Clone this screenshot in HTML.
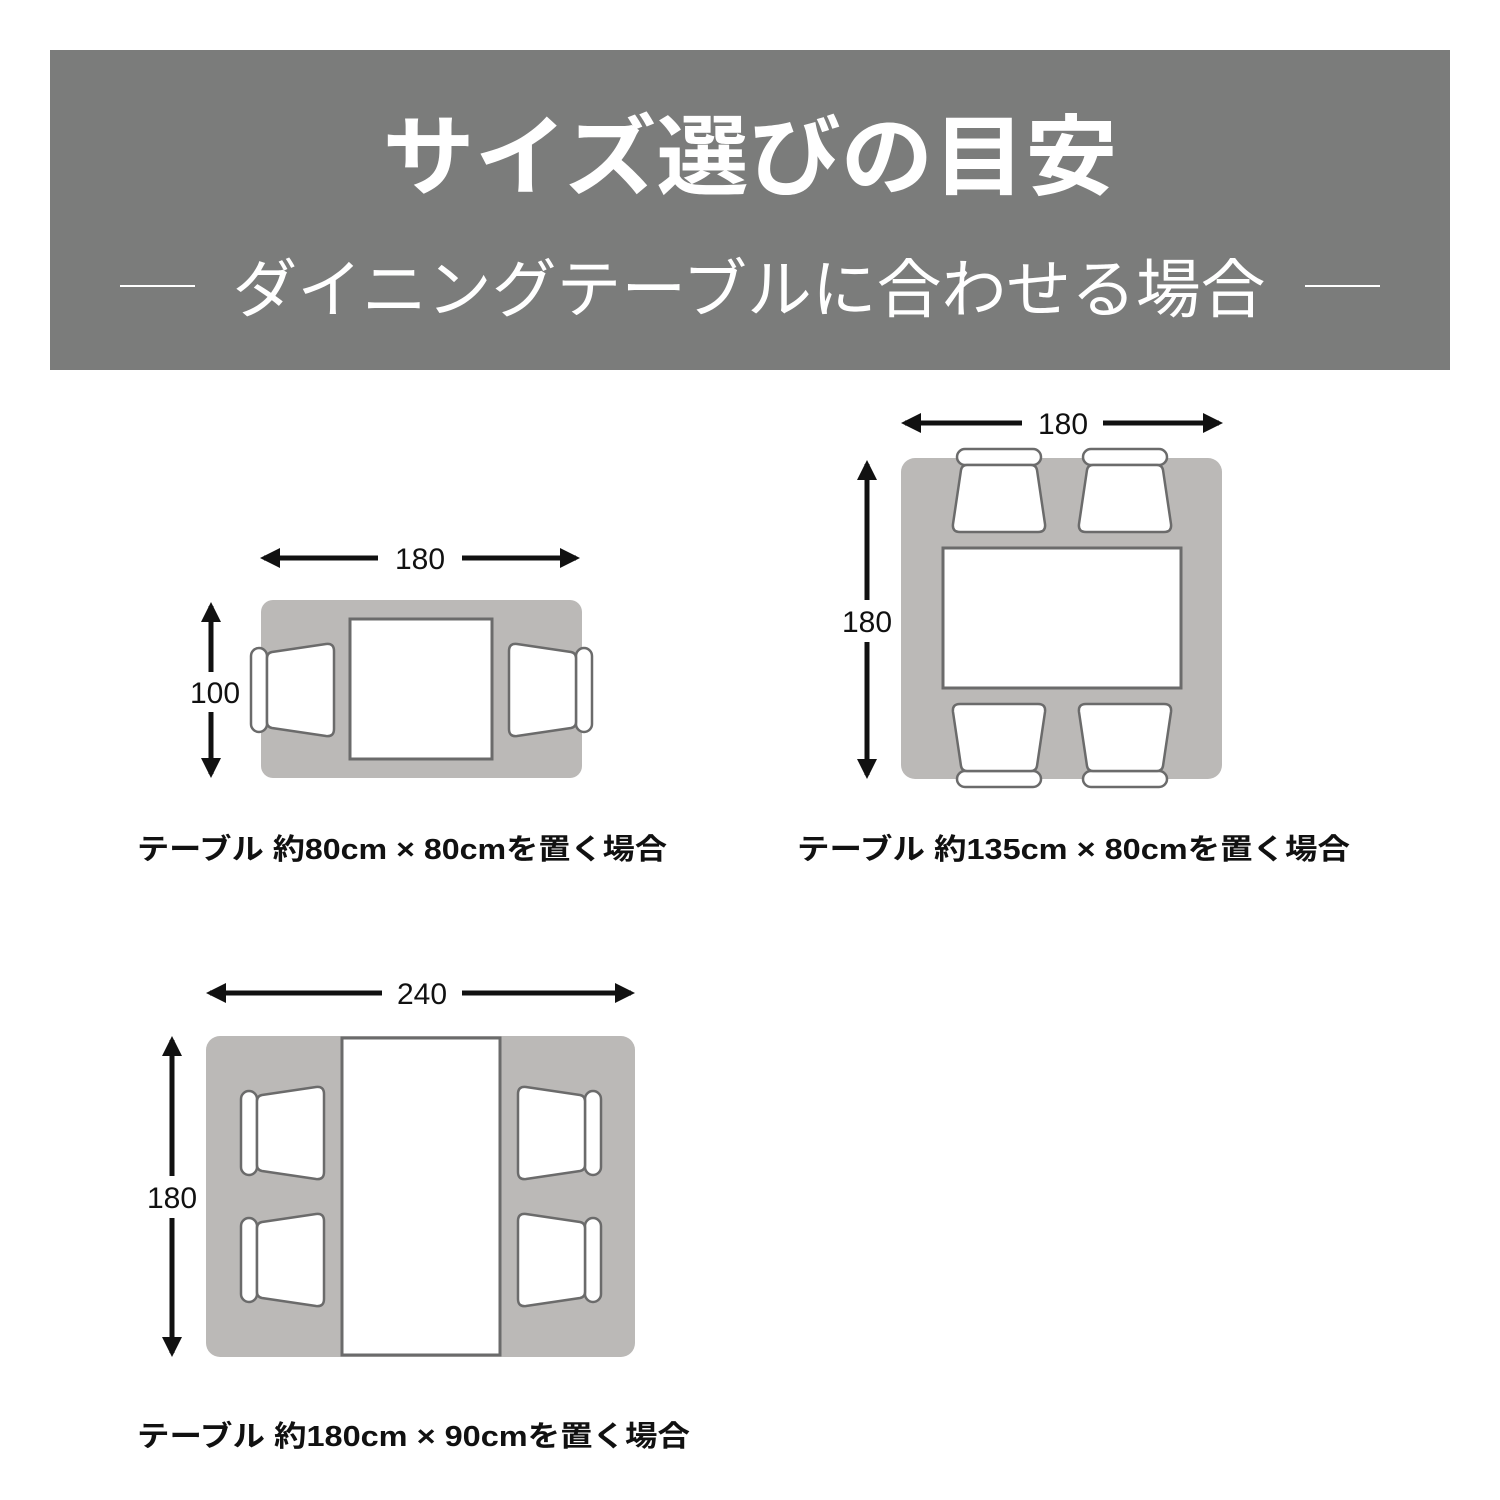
<!DOCTYPE html>
<html><head><meta charset="utf-8"><style>body{margin:0;background:#fff}svg{display:block}</style></head>
<body>
<svg width="1500" height="1500" viewBox="0 0 1500 1500" xmlns="http://www.w3.org/2000/svg" font-family="'Liberation Sans','Noto Sans CJK JP',sans-serif">
<defs>
<g id="ch">
<rect x="-45" y="-42" width="16" height="84" rx="8" fill="#fff" stroke="#6b6b6b" stroke-width="2.5"/>
<path d="M -29,-32 Q -29,-37 -24,-38 L 30,-46 Q 38,-47 38,-39 L 38,39 Q 38,47 30,46 L -24,38 Q -29,37 -29,32 Z" fill="#fff" stroke="#6b6b6b" stroke-width="2.5"/>
</g>
<marker id="ah" viewBox="0 0 10 10" refX="8" refY="5" markerWidth="4" markerHeight="4" orient="auto-start-reverse"><path d="M0,0 L10,5 L0,10 z" fill="#111"/></marker>
</defs>
<rect x="50" y="50" width="1400" height="320" fill="#7b7c7b"/>
<text x="750" y="188" text-anchor="middle" font-size="88" font-weight="bold" fill="#fff" textLength="735" lengthAdjust="spacingAndGlyphs">サイズ選びの目安</text>
<text x="749" y="312" text-anchor="middle" font-size="64" fill="#fff" textLength="1033" lengthAdjust="spacingAndGlyphs">ダイニングテーブルに合わせる場合</text>
<line x1="120" y1="286" x2="195" y2="286" stroke="#fff" stroke-width="2"/>
<line x1="1305" y1="286" x2="1380" y2="286" stroke="#fff" stroke-width="2"/>

<g stroke="#111" stroke-width="5" fill="none">
<line x1="264" y1="558" x2="378" y2="558" marker-start="url(#ah)"/><line x1="462" y1="558" x2="576" y2="558" marker-end="url(#ah)"/>
<line x1="211" y1="606" x2="211" y2="672" marker-start="url(#ah)"/><line x1="211" y1="712" x2="211" y2="774" marker-end="url(#ah)"/>
<line x1="905" y1="423" x2="1022" y2="423" marker-start="url(#ah)"/><line x1="1103" y1="423" x2="1219" y2="423" marker-end="url(#ah)"/>
<line x1="867" y1="464" x2="867" y2="600" marker-start="url(#ah)"/><line x1="867" y1="642" x2="867" y2="775" marker-end="url(#ah)"/>
<line x1="210" y1="993" x2="382" y2="993" marker-start="url(#ah)"/><line x1="462" y1="993" x2="631" y2="993" marker-end="url(#ah)"/>
<line x1="172" y1="1040" x2="172" y2="1176" marker-start="url(#ah)"/><line x1="172" y1="1218" x2="172" y2="1353" marker-end="url(#ah)"/>
</g>
<g font-size="30" fill="#111" text-anchor="middle">
<text x="420" y="569">180</text><text x="215" y="703">100</text>
<text x="1063" y="434">180</text><text x="867" y="632">180</text>
<text x="422" y="1004">240</text><text x="172" y="1208">180</text>
</g>

<rect x="261" y="600" width="321" height="178" rx="12" fill="#bbb9b7"/>
<rect x="350" y="619" width="142" height="140" fill="#fff" stroke="#6b6b6b" stroke-width="3"/>
<use href="#ch" transform="translate(296,690)"/>
<use href="#ch" transform="translate(547,690) rotate(180)"/>

<rect x="901" y="458" width="321" height="321" rx="14" fill="#bbb9b7"/>
<rect x="943" y="548" width="238" height="140" fill="#fff" stroke="#6b6b6b" stroke-width="3"/>
<use href="#ch" transform="translate(999,494) rotate(90)"/>
<use href="#ch" transform="translate(1125,494) rotate(90)"/>
<use href="#ch" transform="translate(999,742) rotate(-90)"/>
<use href="#ch" transform="translate(1125,742) rotate(-90)"/>

<rect x="206" y="1036" width="429" height="321" rx="14" fill="#bbb9b7"/>
<rect x="342" y="1038" width="158" height="317" fill="#fff" stroke="#6b6b6b" stroke-width="3"/>
<use href="#ch" transform="translate(286,1133)"/>
<use href="#ch" transform="translate(286,1260)"/>
<use href="#ch" transform="translate(556,1133) rotate(180)"/>
<use href="#ch" transform="translate(556,1260) rotate(180)"/>

<g font-size="29" font-weight="bold" fill="#111">
<text x="137" y="859" textLength="530" lengthAdjust="spacingAndGlyphs">テーブル 約80cm × 80cmを置く場合</text>
<text x="797" y="859" textLength="553" lengthAdjust="spacingAndGlyphs">テーブル 約135cm × 80cmを置く場合</text>
<text x="137" y="1446" textLength="553" lengthAdjust="spacingAndGlyphs">テーブル 約180cm × 90cmを置く場合</text>
</g>
</svg>
</body></html>
